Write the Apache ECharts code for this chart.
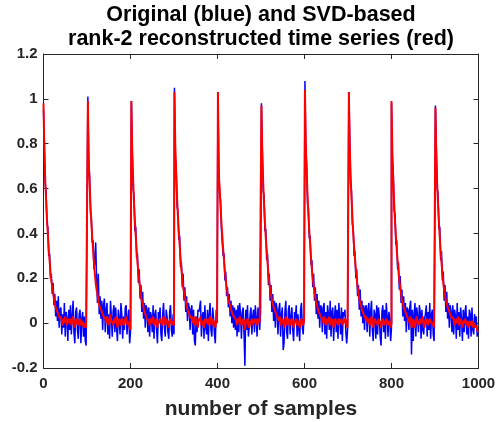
<!DOCTYPE html>
<html><head><meta charset="utf-8">
<script src="https://cdn.jsdelivr.net/npm/echarts@6/dist/echarts.min.js"></script>
<style>html,body{margin:0;padding:0;background:#fff}#c{width:496px;height:422px}</style>
</head><body><div id="c"></div>
<script>
const titleLines = ['Original (blue) and SVD-based', 'rank-2 reconstructed time series (red)'];
const xLabel = 'number of samples';
const xMin = 0, xMax = 1000, xStep = 200;
const yMin = -0.2, yMax = 1.2, yStep = 0.2;
const sampleStep = 2;
const cycleStarts = [0, 102, 202, 301, 401, 501, 601, 702, 800, 901];

const originalByCycle = [
 [0.95,0.80,0.62,0.58,0.44,0.43,0.30,0.31,0.20,0.22,0.13,0.18,0.08,0.13,0.03,0.10,0.01,0.12,-0.02,0.06,
  0.07,-0.05,0.04,-0.02,0.09,-0.06,0.05,0.02,-0.08,0.06,-0.03,0.08,-0.05,0.03,0.10,-0.04,-0.09,0.05,0.07,-0.03,-0.07,0.04,0.06,-0.09,0.02,0.05,-0.06,0.03,-0.08,-0.10],
 [1.01,0.71,0.66,0.49,0.47,0.36,0.37,0.24,0.27,0.36,0.20,0.09,0.22,0.04,0.12,0.02,0.10,-0.03,0.08,0.11,
  -0.04,0.06,0.09,-0.05,0.04,-0.07,0.10,0.03,-0.06,0.05,0.08,-0.04,0.07,-0.02,-0.08,0.06,0.02,-0.05,0.09,0.04,-0.07,0.03,-0.03,0.07,0.08,-0.05,0.02,0.06,-0.09,-0.04],
 [0.99,0.79,0.60,0.57,0.41,0.43,0.29,0.31,0.18,0.24,0.11,0.17,0.05,0.14,0.02,0.09,-0.02,0.08,0.06,-0.04,
  0.07,-0.06,0.05,0.03,-0.04,0.08,-0.07,0.04,0.06,-0.03,-0.09,0.05,0.02,0.07,-0.05,-0.08,0.04,0.09,-0.02,-0.06,0.06,0.03,-0.04,-0.07,0.05,0.08,-0.03,-0.06,0.04,-0.05],
 [1.05,0.74,0.70,0.52,0.50,0.37,0.39,0.25,0.27,0.16,0.22,0.10,0.16,0.05,0.12,0.01,0.09,0.07,-0.03,0.06,
  0.08,-0.05,0.06,-0.08,-0.10,0.03,-0.04,0.06,0.05,0.07,0.10,-0.06,0.03,0.05,-0.07,0.08,-0.02,-0.05,0.06,-0.08,0.04,0.09,-0.03,-0.06,0.07,0.02,-0.05,-0.09,0.06,0.03],
 [1.03,0.70,0.57,0.55,0.42,0.42,0.30,0.31,0.19,0.23,0.12,0.16,0.07,0.13,0.03,0.10,0.00,0.08,-0.02,0.07,
  -0.03,0.06,-0.06,0.08,-0.04,0.09,0.04,-0.07,0.05,0.07,-0.05,-0.19,0.06,-0.03,0.08,-0.06,-0.02,0.04,0.07,-0.05,0.03,0.06,-0.04,0.08,0.02,-0.06,0.07,0.04,-0.03,0.05],
 [0.98,0.78,0.59,0.57,0.41,0.42,0.28,0.31,0.17,0.22,0.10,0.17,0.05,0.13,0.01,0.10,-0.02,0.09,0.06,-0.05,
  0.06,0.09,-0.06,0.04,0.07,-0.12,-0.09,0.05,0.10,-0.04,-0.07,0.06,0.08,-0.05,0.03,0.07,-0.03,-0.08,0.05,0.02,0.08,-0.06,0.04,-0.03,-0.08,0.06,0.09,-0.02,-0.05,0.04],
 [1.08,0.77,0.71,0.53,0.51,0.38,0.39,0.26,0.28,0.16,0.22,0.10,0.16,0.04,0.13,0.02,0.10,-0.02,0.08,0.07,
  -0.04,0.07,0.09,-0.05,0.05,-0.07,0.08,0.04,-0.03,0.10,-0.06,0.05,0.07,-0.08,0.03,0.08,-0.04,0.06,-0.07,0.09,0.02,-0.05,0.07,-0.08,0.05,0.03,0.06,-0.04,-0.09,-0.03],
 [1.03,0.83,0.62,0.59,0.44,0.43,0.30,0.32,0.20,0.24,0.12,0.17,0.06,0.15,0.03,0.10,0.00,0.08,-0.03,0.07,
  0.08,-0.04,0.06,0.09,-0.06,0.05,0.10,-0.03,-0.08,0.06,0.04,-0.07,0.08,-0.05,0.07,0.03,-0.06,-0.10,0.05,0.08,-0.04,0.06,-0.07,0.09,0.03,-0.06,0.05,0.02,-0.08,-0.02],
 [0.98,0.73,0.68,0.50,0.49,0.35,0.37,0.24,0.27,0.15,0.21,0.09,0.15,0.03,0.12,0.01,0.09,-0.04,0.07,0.06,
  -0.03,0.07,0.10,-0.14,0.06,-0.08,0.04,0.09,-0.06,0.07,0.03,-0.04,0.08,0.05,-0.07,0.06,-0.03,-0.05,0.02,0.04,0.08,-0.06,0.05,-0.03,0.09,-0.07,0.04,0.06,-0.05,-0.08],
 [0.97,0.79,0.60,0.58,0.42,0.43,0.28,0.32,0.19,0.23,0.10,0.17,0.05,0.14,0.02,0.09,-0.02,0.08,0.05,-0.04,
  0.08,-0.05,0.06,0.03,-0.07,0.09,-0.03,0.05,-0.06,0.07,0.02,-0.08,0.06,-0.04,0.05,0.08,-0.05,0.03,-0.07,0.06,0.04,-0.06,0.07,-0.03,-0.05,0.04,-0.02,0.03,-0.06,-0.04]
];

const reconstructedByCycle = [
 [0.98,0.77,0.64,0.55,0.46,0.40,0.33,0.28,0.23,0.19,0.16,0.14,0.11,0.09,0.07,0.06,0.05,0.04,0.03,0.02,
  0.03,0.01,-0.01,0.02,0.00,0.03,0.01,-0.01,0.02,0.01,0.00,0.02,-0.01,0.01,0.03,0.00,-0.02,0.01,0.02,0.00,-0.01,0.01,0.02,-0.01,0.00,0.01,-0.02,0.00,-0.01,-0.02],
 [0.99,0.72,0.62,0.53,0.45,0.38,0.33,0.27,0.22,0.18,0.15,0.13,0.10,0.08,0.07,0.07,0.05,0.04,0.03,0.03,
  0.02,0.00,0.03,0.01,-0.01,0.02,0.04,0.00,0.01,-0.01,0.02,0.00,0.03,0.01,-0.02,0.01,0.02,0.00,-0.01,0.02,0.01,-0.01,0.00,0.02,0.03,0.00,-0.01,0.01,-0.02,-0.03],
 [0.99,0.76,0.64,0.54,0.46,0.39,0.33,0.27,0.23,0.19,0.16,0.12,0.10,0.09,0.07,0.05,0.05,0.03,0.02,0.02,
  0.01,-0.01,0.02,0.00,0.01,0.03,-0.01,0.00,0.02,0.01,-0.02,0.01,0.00,0.02,0.01,-0.01,0.00,0.03,0.01,-0.01,0.02,0.00,0.01,-0.02,0.01,0.02,0.00,-0.01,0.01,-0.01],
 [1.03,0.79,0.67,0.56,0.48,0.41,0.35,0.29,0.24,0.20,0.16,0.14,0.11,0.10,0.08,0.06,0.05,0.04,0.03,0.02,
  0.03,0.00,0.02,-0.01,0.03,0.01,0.00,-0.02,0.02,0.01,0.03,-0.01,0.00,0.01,-0.02,0.02,0.01,0.00,0.02,-0.01,0.01,0.03,0.00,-0.01,0.02,0.00,0.01,-0.02,0.01,0.00],
 [1.03,0.66,0.60,0.52,0.45,0.39,0.33,0.28,0.23,0.19,0.16,0.13,0.11,0.09,0.08,0.06,0.05,0.04,0.03,0.03,
  0.02,0.01,-0.01,0.02,0.00,0.03,0.01,-0.01,0.00,0.02,0.01,-0.03,0.00,0.01,0.02,-0.01,-0.02,0.01,0.00,0.02,-0.01,0.01,0.00,0.02,0.01,-0.01,0.02,0.00,0.01,0.01],
 [0.97,0.75,0.63,0.53,0.45,0.38,0.33,0.27,0.22,0.18,0.15,0.13,0.10,0.09,0.07,0.06,0.05,0.04,0.03,0.02,
  0.01,0.03,-0.01,0.00,0.02,0.01,-0.02,0.01,0.03,0.00,-0.01,0.01,0.02,-0.01,0.00,0.02,0.01,-0.02,0.00,0.01,0.02,-0.01,0.01,0.00,-0.02,0.01,0.02,0.00,-0.01,0.01],
 [1.04,0.80,0.67,0.57,0.48,0.41,0.35,0.29,0.24,0.20,0.17,0.14,0.11,0.09,0.08,0.06,0.05,0.04,0.03,0.03,
  0.02,0.00,0.03,0.01,-0.01,0.02,0.00,0.01,0.03,-0.01,0.01,0.02,0.00,-0.02,0.01,0.02,0.00,0.01,-0.01,0.02,0.01,0.00,0.02,-0.01,0.01,0.00,0.02,0.01,-0.01,-0.02],
 [1.03,0.79,0.66,0.56,0.48,0.40,0.34,0.29,0.24,0.20,0.16,0.13,0.11,0.09,0.08,0.06,0.05,0.04,0.03,0.02,
  0.03,0.01,0.00,0.02,-0.01,0.01,0.03,0.00,-0.02,0.01,0.02,0.00,0.01,-0.01,0.02,0.00,0.01,-0.02,0.01,0.02,0.00,-0.01,0.01,0.02,0.00,-0.01,0.01,0.00,-0.02,0.00],
 [0.99,0.76,0.64,0.54,0.46,0.39,0.33,0.28,0.23,0.19,0.16,0.13,0.10,0.09,0.07,0.06,0.05,0.04,0.03,0.02,
  0.02,0.00,0.03,-0.02,-0.01,0.02,0.00,-0.02,0.01,0.03,0.00,0.01,-0.01,0.02,0.00,0.01,0.03,-0.01,-0.02,0.01,0.02,0.00,-0.01,0.01,0.02,0.00,0.01,-0.01,0.00,-0.02],
 [0.96,0.74,0.62,0.53,0.45,0.38,0.32,0.27,0.22,0.18,0.15,0.12,0.10,0.09,0.07,0.06,0.05,0.04,0.03,0.02,
  0.03,0.01,-0.01,0.02,0.00,0.01,0.03,-0.01,0.00,0.02,0.01,-0.02,0.01,0.00,0.02,-0.01,0.01,0.00,-0.02,0.01,0.00,-0.01,0.01,-0.02,0.00,-0.01,-0.02,-0.01,-0.03,-0.04]
];

function toPoints(cycles) {
  const pts = [];
  cycles.forEach((vals, c) => vals.forEach((v, j) => pts.push([cycleStarts[c] + j * sampleStep, v])));
  return pts;
}

const FONT = '"Liberation Sans", Arial, Helvetica, sans-serif';
const INK = '#262626';
const chart = echarts.init(document.getElementById('c'), null, {renderer: 'canvas'});

function axisCommon(extra) {
  return Object.assign({
    type: 'value',
    axisLine: {show: true, onZero: false, lineStyle: {color: INK, width: 1}},
    axisTick: {show: true, inside: true, length: 5, lineStyle: {color: INK, width: 1}},
    splitLine: {show: false}
  }, extra);
}
const plainNum = v => String(Math.round(v * 1000) / 1000);

chart.setOption({
  animation: false,
  backgroundColor: '#fff',
  grid: {left: 43.5, right: 17.5, top: 54, bottom: 54, containLabel: false, outerBoundsMode: 'none'},
  graphic: [
    {type: 'text', x: 261, y: 15.5, style: {text: titleLines[0], fill: '#000', font: 'bold 21.5px ' + FONT, textAlign: 'center', textVerticalAlign: 'middle', align: 'center', verticalAlign: 'middle'}},
    {type: 'text', x: 261, y: 39, style: {text: titleLines[1], fill: '#000', font: 'bold 21.5px ' + FONT, textAlign: 'center', textVerticalAlign: 'middle', align: 'center', verticalAlign: 'middle'}}
  ],
  xAxis: [
    axisCommon({position: 'bottom', min: xMin, max: xMax, interval: xStep,
      axisLabel: {color: INK, fontSize: 15, fontWeight: 'bold', fontFamily: FONT, margin: 8, formatter: plainNum},
      name: xLabel, nameLocation: 'middle', nameGap: 31,
      nameTextStyle: {color: INK, fontSize: 21, fontWeight: 'bold', fontFamily: FONT}}),
    axisCommon({position: 'top', min: xMin, max: xMax, interval: xStep, axisLabel: {show: false}})
  ],
  yAxis: [
    axisCommon({position: 'left', min: yMin, max: yMax, interval: yStep,
      axisLabel: {color: INK, fontSize: 15, fontWeight: 'bold', fontFamily: FONT, margin: 6, formatter: plainNum}}),
    axisCommon({position: 'right', min: yMin, max: yMax, interval: yStep, axisLabel: {show: false}})
  ],
  series: [
    {type: 'line', name: 'original', data: toPoints(originalByCycle), showSymbol: false, symbol: 'none',
     lineStyle: {color: '#0000ff', width: 1.5}, z: 2},
    {type: 'line', name: 'reconstructed', data: toPoints(reconstructedByCycle), showSymbol: false, symbol: 'none',
     lineStyle: {color: '#ff0000', width: 2}, z: 3}
  ]
});
</script>
</body></html>
